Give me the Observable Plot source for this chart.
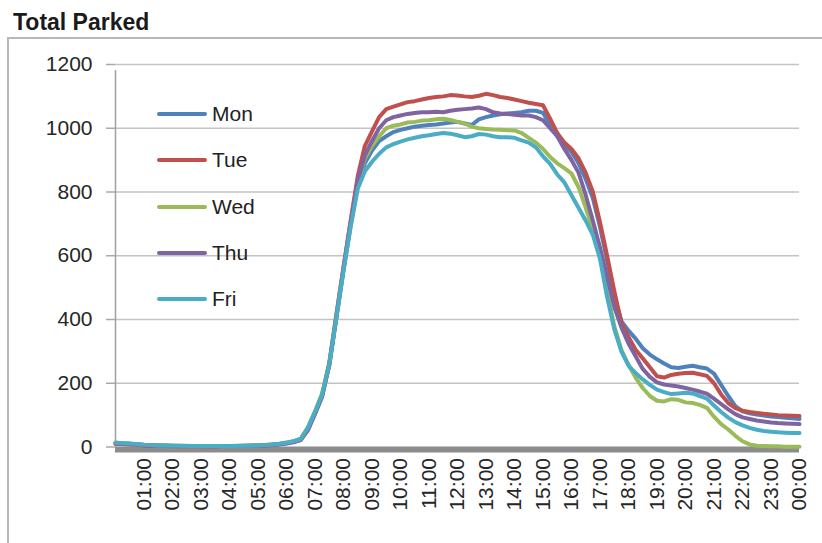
<!DOCTYPE html>
<html><head><meta charset="utf-8">
<script src="https://cdn.jsdelivr.net/npm/d3@7"></script>
<script src="https://cdn.jsdelivr.net/npm/@observablehq/plot@0.6"></script>
<style>
body{margin:0;background:#fff;font-family:"Liberation Sans",Arial,sans-serif;}
#wrap{position:relative;width:822px;height:543px;overflow:hidden;background:#fff;}
#title{position:absolute;left:13px;top:11px;font-weight:bold;font-size:23px;line-height:1;color:#1a1a1a;white-space:nowrap;}
#frame{position:absolute;left:7px;top:37px;width:840px;height:540px;border-top:2px solid #b8b8b8;border-left:2px solid #b8b8b8;}
#chart{position:absolute;left:0;top:0;}
.leg{position:absolute;height:21px;line-height:21px;font-size:21px;color:#222;white-space:nowrap;}
.leg i{position:absolute;left:0;top:9px;width:50px;height:4px;border-radius:2px;}
.leg span{position:absolute;left:55px;top:0;}
</style></head>
<body>
<div id="wrap">
  <div id="frame"></div>
  <div id="title">Total Parked</div>
  <div id="chart"></div>
  <div id="legend"></div>
</div>
<script>
// ---- data (15-minute readings, hour 0 → 24) ----
const days = ["Mon", "Tue", "Wed", "Thu", "Fri"];
const colors = ["#4F81BD", "#C0504D", "#9BBB59", "#8064A2", "#4BACC6"];
const yTicks = [0, 200, 400, 600, 800, 1000, 1200];
const xTickHours = [1,2,3,4,5,6,7,8,9,10,11,12,13,14,15,16,17,18,19,20,21,22,23,24];
const xTickLabels = ["01:00","02:00","03:00","04:00","05:00","06:00","07:00","08:00","09:00","10:00","11:00","12:00","13:00","14:00","15:00","16:00","17:00","18:00","19:00","20:00","21:00","22:00","23:00","00:00"];

const mon = [12,11,10,8, 6,5,5,4, 4,3,3,3, 3,3,3,3, 3,3,4,4, 5,6,7,9,
  13,17,25,58, 108,165,255,405, 555,695,820,890, 930,960,975,988,
  995,1000,1005,1008, 1010,1012,1015,1018, 1020,1015,1010,1028, 1035,1040,1044,1046,
  1048,1050,1055,1055, 1048,1012,975,950, 925,890,840,780, 690,585,475,395,
  365,340,310,290, 275,262,250,248, 252,255,250,246, 230,195,160,128,
  112,106,102,99, 96,94,92,90, 88];
const tue = [10,9,8,7, 5,4,4,3, 3,2,2,2, 2,2,2,3, 3,3,3,4, 4,5,7,9,
  12,16,23,55, 105,160,262,415, 565,710,850,945, 990,1035,1060,1068,
  1075,1082,1085,1090, 1095,1098,1100,1104, 1103,1100,1098,1102, 1108,1104,1098,1095,
  1090,1085,1080,1076, 1072,1030,985,955, 935,905,860,800, 705,600,490,390,
  345,305,278,250, 222,218,226,230, 232,233,228,223, 200,165,138,122,
  114,110,107,104, 102,100,99,98, 97];
const wed = [14,12,10,9, 7,6,5,5, 4,4,4,3, 3,3,3,3, 3,4,4,4, 5,6,8,10,
  14,18,26,62, 112,168,265,415, 560,700,830,905, 945,975,1000,1008,
  1012,1018,1020,1024, 1025,1028,1030,1026, 1020,1015,1005,1000, 998,996,995,994,
  993,985,970,955, 935,910,890,875, 858,815,750,680, 600,490,380,305,
  258,218,185,160, 145,143,150,148, 140,138,132,123, 95,72,55,35,
  18,8,4,3, 2,2,1,1, 1];
const thu = [11,10,9,8, 6,5,4,4, 3,3,3,3, 3,2,2,3, 3,3,3,4, 4,5,6,8,
  11,15,22,52, 104,158,258,410, 560,705,835,915, 960,1000,1025,1035,
  1040,1045,1048,1050, 1050,1052,1050,1055, 1058,1060,1062,1065, 1060,1050,1046,1045,
  1042,1040,1040,1035, 1025,1000,975,935, 900,860,790,710, 625,535,440,375,
  325,285,245,220, 203,196,193,190, 185,180,174,167, 152,135,118,103,
  93,88,83,80, 77,75,74,73, 72];
const fri = [13,12,11,9, 7,6,5,5, 4,4,3,3, 3,3,3,3, 3,3,4,4, 5,6,8,10,
  13,18,25,60, 110,165,258,405, 552,690,810,865, 895,920,940,950,
  958,965,970,975, 978,982,985,983, 978,972,975,982, 980,975,972,972,
  970,962,955,940, 912,888,855,830, 790,750,710,665, 590,470,370,300,
  255,232,212,195, 180,172,166,168, 170,168,160,152, 130,110,92,78,
  68,60,54,50, 48,46,45,44, 44];

const seriesValues = [mon, tue, wed, thu, fri];
const hours = d3.range(0, 24.001, 0.25);

const rows = [];
days.forEach((day, k) => {
  seriesValues[k].forEach((v, i) => rows.push({hour: hours[i], value: v, day}));
});

const chart = Plot.plot({
  width: 822,
  height: 543,
  marginTop: 64,
  marginBottom: 96.5,
  marginLeft: 115,
  marginRight: 23,
  style: {fontFamily: "'Liberation Sans', Arial, sans-serif", fontSize: "21px", color: "#222", background: "transparent"},
  x: {domain: [0, 24]},
  y: {domain: [0, 1200]},
  color: {domain: days, range: colors},
  marks: [
    Plot.ruleY(yTicks.filter(d => d > 0), {stroke: "#c3c3c3", strokeWidth: 1.5}),
    Plot.axisY(yTicks, {tickSize: 9, tickPadding: 14, stroke: "#a8a8a8", strokeWidth: 1.5, fill: "#262626",
      tickFormat: d => String(d), label: null}),
    Plot.axisX(xTickHours, {tickSize: 0, tickPadding: 11, tickRotate: -90, fill: "#262626",
      tickFormat: h => xTickLabels[xTickHours.indexOf(h)], label: null}),
    Plot.ruleX([0], {y1: 0, y2: 1200, stroke: "#a0a0a0", strokeWidth: 1.5, insetBottom: -6}),
    Plot.ruleY([0], {stroke: "#8c8c8c", strokeWidth: 6, dy: 2.5}),
    Plot.lineY(rows, {x: "hour", y: "value", z: "day", stroke: "day", strokeWidth: 4, strokeLinejoin: "round"})
  ]
});
document.getElementById("chart").appendChild(chart);

// legend (inside plot area, top-left)
const legend = document.getElementById("legend");
days.forEach((d, i) => {
  const el = document.createElement("div");
  el.className = "leg";
  el.style.left = "157px";
  el.style.top = (103 + i * 46.3) + "px";
  el.innerHTML = `<i style="background:${colors[i]}"></i><span>${d}</span>`;
  legend.appendChild(el);
});
</script>
</body></html>
